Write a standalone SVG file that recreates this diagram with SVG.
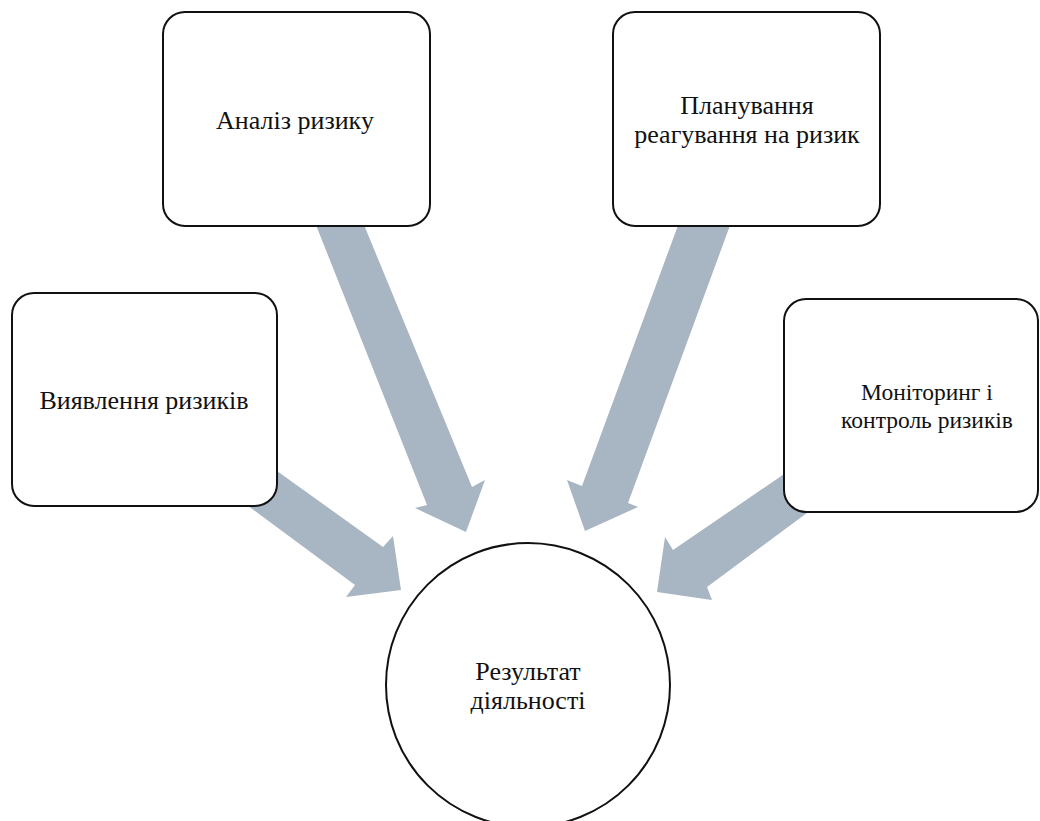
<svg xmlns="http://www.w3.org/2000/svg" width="1040" height="821" viewBox="0 0 1040 821">
<style>
.box{fill:#fff;stroke:#111;stroke-width:2}
.arrow{fill:#a8b5c3}
.t{font-family:'Liberation Serif','DejaVu Serif',serif;font-size:26px;fill:#111;text-anchor:middle}
.s{font-size:23.5px}
</style>
<rect width="1040" height="821" fill="#fff"/>
<g id="connectors">
<polygon class="arrow" points="270,466 383,547 393,536 401,590 346,597 355,585 240,500"/>
<polygon class="arrow" points="314,220 362,220 472,487 485,480 466,532 415,508 427,505"/>
<polygon class="arrow" points="680,220 732,220 628,503 638,507 585,531 567,480 582,486"/>
<polygon class="arrow" points="790,470 673,550 665,537 657,592 712,600 707,587 815,507"/>
</g>
<g id="node-analysis">
<rect class="box" x="163" y="12" width="267" height="214" rx="22"/>
<text class="t" x="295" y="129">Аналіз ризику</text>
</g>
<g id="node-planning">
<rect class="box" x="613" y="12" width="267" height="214" rx="22"/>
<text class="t" x="747" y="114">Планування</text>
<text class="t" x="747" y="143">реагування на ризик</text>
</g>
<g id="node-identification">
<rect class="box" x="12" y="293" width="265" height="213" rx="22"/>
<text class="t" x="144" y="409">Виявлення ризиків</text>
</g>
<g id="node-monitoring">
<rect class="box" x="784" y="299" width="254" height="213" rx="22"/>
<text class="t s" x="927" y="400">Моніторинг і</text>
<text class="t s" x="927" y="428">контроль ризиків</text>
</g>
<g id="node-result">
<circle class="box" cx="528" cy="685" r="142"/>
<text class="t" x="528" y="680">Результат</text>
<text class="t" x="528" y="709">діяльності</text>
</g>
</svg>
